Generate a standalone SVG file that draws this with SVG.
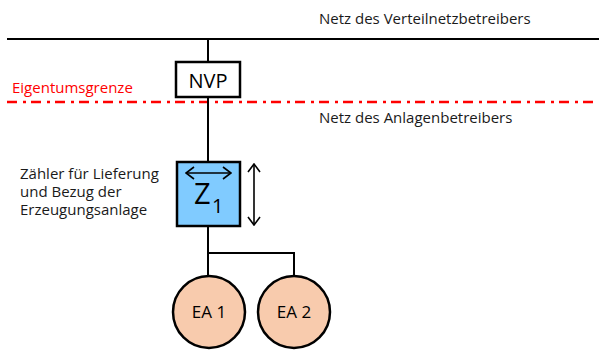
<svg xmlns="http://www.w3.org/2000/svg" width="599" height="350" viewBox="0 0 599 350">
  <defs>
    <style>
      .wire { stroke: #000; stroke-width: 2; fill: none; }
      .box { stroke: #000; stroke-width: 2.5; }
      .lbl { font-family: "Open Sans", "Noto Sans", sans-serif; font-size: 15px; fill: #1a1a1a; }
      .red { fill: #ff0000; }
      .big { font-family: "Open Sans", "Noto Sans", sans-serif; fill: #000; }
      .arr { stroke: #000; stroke-width: 1.6; fill: none; }
    </style>
    <marker id="chev" viewBox="0 0 10 14" refX="9" refY="7" markerWidth="10" markerHeight="14" markerUnits="userSpaceOnUse" orient="auto-start-reverse">
      <path d="M1,1 L9,7 L1,13" fill="none" stroke="#000" stroke-width="1.6"/>
    </marker>
  </defs>
  <rect width="599" height="350" fill="#fff"/>

  <!-- grid lines and labels -->
  <g id="grid">
    <line x1="7" y1="39" x2="599" y2="39" class="wire"/>
    <text x="319" y="24" class="lbl">Netz des Verteilnetzbetreibers</text>
    <line x1="7" y1="102" x2="599" y2="102" stroke="#ff0000" stroke-width="2.5" stroke-dasharray="10 6 3 5"/>
    <text x="12" y="93" class="lbl red">Eigentumsgrenze</text>
    <text x="319" y="123" class="lbl">Netz des Anlagenbetreibers</text>
  </g>

  <!-- connectors -->
  <g id="connectors">
    <line x1="208" y1="39" x2="208" y2="62" class="wire"/>
    <line x1="208" y1="97" x2="208" y2="162" class="wire"/>
    <polyline points="208,226 208,276" class="wire"/>
    <polyline points="208,253 294,253 294,276" class="wire"/>
  </g>

  <!-- grid connection point -->
  <g id="nvp">
    <rect x="176" y="62" width="64" height="35" fill="#fff" class="box"/>
    <text x="208" y="88" text-anchor="middle" class="big" font-size="20">NVP</text>
  </g>

  <!-- meter -->
  <g id="meter">
    <rect x="177" y="162" width="63" height="64" fill="#80CBFF" class="box"/>
    <line x1="186" y1="173" x2="231" y2="173" class="arr" marker-start="url(#chev)" marker-end="url(#chev)"/>
    <text x="194" y="204" class="big" font-size="29">Z</text>
    <text x="212" y="213" class="big" font-size="20">1</text>
    <line x1="254" y1="164" x2="254" y2="225" class="arr" marker-start="url(#chev)" marker-end="url(#chev)"/>
    <text x="20" y="179" class="lbl">Zähler für Lieferung</text>
    <text x="20" y="197" class="lbl">und Bezug der</text>
    <text x="20" y="215" class="lbl">Erzeugungsanlage</text>
  </g>

  <!-- generation units -->
  <g id="ea1">
    <circle cx="209" cy="312" r="36" fill="#F8CBAD" class="box"/>
    <text x="209" y="318" text-anchor="middle" class="big" font-size="17">EA 1</text>
  </g>
  <g id="ea2">
    <circle cx="294" cy="312" r="36" fill="#F8CBAD" class="box"/>
    <text x="294" y="318" text-anchor="middle" class="big" font-size="17">EA 2</text>
  </g>
</svg>
